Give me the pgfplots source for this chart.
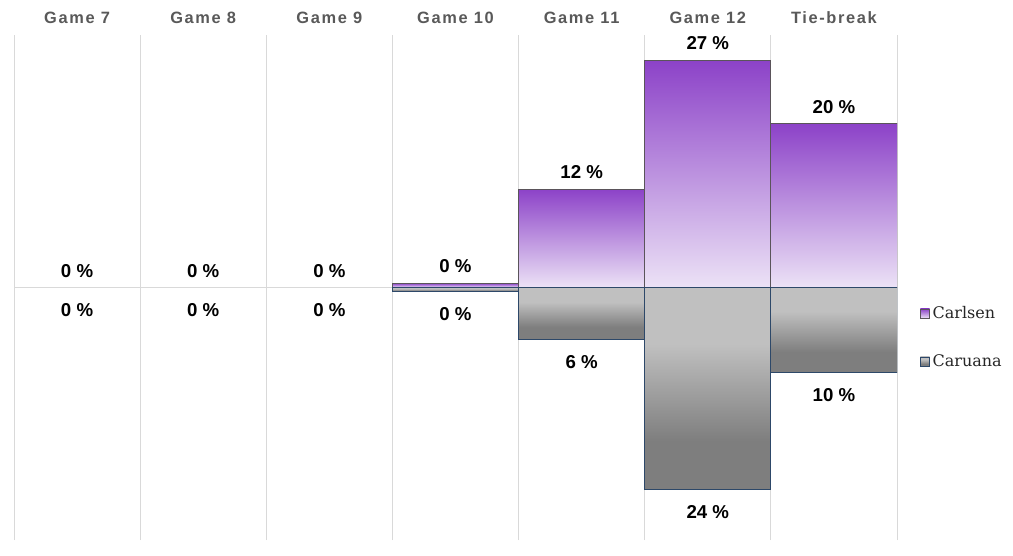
\documentclass[border=0pt]{standalone}
\usepackage{pgfplots}
\pgfplotsset{compat=1.18}
\usepackage{fontspec}
\setmainfont{Liberation Sans}
\newfontfamily\catfont[LetterSpace=10]{Liberation Sans}
\newfontfamily\legfont{DejaVu Serif}
\definecolor{cTop}{RGB}{140,66,200}
\definecolor{cBot}{RGB}{236,226,246}
\definecolor{cEdge}{RGB}{90,84,90}
\definecolor{rTop}{RGB}{192,192,192}
\definecolor{rBot}{RGB}{126,126,126}
\definecolor{rEdge}{RGB}{45,72,105}
\definecolor{gridc}{RGB}{217,217,217}
\definecolor{catc}{RGB}{89,89,89}
\pgfdeclareverticalshading{carshade}{100bp}{color(0bp)=(rBot); color(25bp)=(rBot); color(37bp)=(rBot); color(61bp)=(rTop); color(75bp)=(rTop); color(100bp)=(rTop)}
\pgfplotsset{
  carl/.style={top color=cTop, bottom color=cBot, draw=cEdge, line width=0.6pt,
    every node near coord/.append style={yshift=4pt}},
  caru/.style={shade, shading=carshade, draw=rEdge, line width=0.6pt,
    every node near coord/.append style={anchor=north, yshift=-8.5pt}},
}
\begin{document}
\begin{tikzpicture}
\begin{axis}[
  name=ax,
  scale only axis,
  width=662.25pt, height=378.75pt,
  xmin=-0.5, xmax=6.5, ymin=-30, ymax=30,
  ybar, bar width=1, bar shift=0pt,
  axis line style={draw=none},
  xtick={0,...,6},
  xticklabels={Game 7,Game 8,Game 9,Game 10,Game 11,Game 12,Tie-break},
  xticklabel pos=upper,
  xticklabel style={font=\catfont\bfseries\fontsize{12.3}{14}\selectfont, text=catc, yshift=5pt},
  major tick length=0pt, minor tick length=0pt,
  minor xtick={-0.5,0.5,...,6.5},
  xminorgrids=true,
  minor x grid style={gridc, line width=0.75pt},
  ytick=\empty,
  extra y ticks={0}, extra y tick labels={},
  extra y tick style={grid=major, major grid style={gridc, line width=0.75pt}},
  point meta=explicit symbolic,
  nodes near coords={\pgfplotspointmeta\ \%},
  nodes near coords style={font=\bfseries\fontsize{14}{16}\selectfont, text=black},
  legend style={draw=none, fill=none, at={(1,0.5)}, anchor=north west, xshift=14pt, yshift=-10pt,
    font=\legfont\fontsize{12}{14}\selectfont, row sep=21.5pt, text=black!85},
  legend cell align=left,
  legend image code/.code={\draw[#1, line width=0.5pt] (0pt,-3.5pt) rectangle (7pt,3.5pt);},
]
% Carlsen
\addplot[carl] coordinates {(4,11.7) [12]};
\addlegendentry{Carlsen}
% Caruana
\addplot[caru] coordinates {(4,-6.2) [6]};
\addlegendentry{Caruana}
\addplot[carl, forget plot] coordinates {(3,0.5) [0]};
\addplot[carl, forget plot] coordinates {(5,27.0) [27]};
\addplot[carl, forget plot] coordinates {(6,19.5) [20]};
\addplot[caru, forget plot] coordinates {(3,-0.5) [0]};
\addplot[caru, forget plot] coordinates {(5,-24.0) [24]};
\addplot[caru, forget plot] coordinates {(6,-10.1) [10]};
% zero-valued games: labels only
\addplot[draw=none, fill=none, forget plot, every node near coord/.append style={yshift=4pt}]
  coordinates {(0,0) [0] (1,0) [0] (2,0) [0]};
\addplot[draw=none, fill=none, forget plot, every node near coord/.append style={anchor=north, yshift=-8.5pt}]
  coordinates {(0,0) [0] (1,0) [0] (2,0) [0]};
\end{axis}
\pgfresetboundingbox
\path[use as bounding box] ([xshift=-10.5pt,yshift=-11.25pt]ax.south west) rectangle ([xshift=87pt,yshift=26.25pt]ax.north east);
\end{tikzpicture}
\end{document}
